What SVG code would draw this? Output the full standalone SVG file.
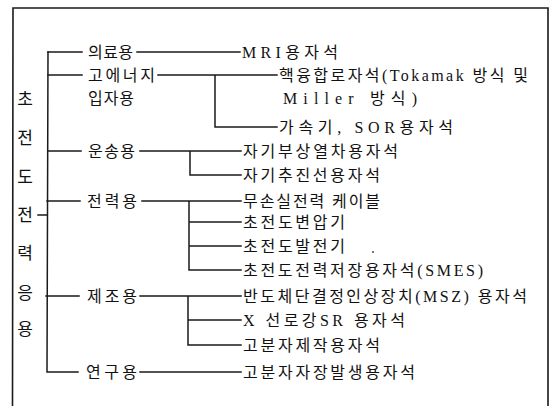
<svg xmlns="http://www.w3.org/2000/svg" width="553" height="406" viewBox="0 0 553 406">
<style>
.ln{stroke:#1a1a1a;stroke-width:1.5;fill:none;stroke-linecap:square}
.fr{stroke:#1a1a1a;stroke-width:1.6;fill:none}
.t{font-family:"Liberation Serif","Noto Sans CJK KR",serif;font-size:16px;fill:#111}
.v{font-family:"Noto Sans CJK KR",sans-serif;font-size:17px;fill:#111;text-anchor:middle}
</style>
<rect width="553" height="406" fill="#fff"/>
<g id="frame">
<path class="fr" d="M12.5,406 L13,8 L548,8 L548,406"/>
</g>
<g id="title">
<text class="v" x="25" y="105">초</text>
<text class="v" x="25" y="144">전</text>
<text class="v" x="25" y="183">도</text>
<text class="v" x="25" y="221">전</text>
<text class="v" x="25" y="259">력</text>
<text class="v" x="25" y="299">응</text>
<text class="v" x="25" y="335">용</text>
</g>
<g id="connectors">
<path class="ln" d="M48,52 L47,372 L78,372"/>
<path class="ln" d="M38,215 L47,215"/>
<path class="ln" d="M48,52 L82,52 M48,75 L82,75 M48,151 L81,151 M47,201 L80,201 M46,296 L79,296"/>
<path class="ln" d="M137,52 L240,52"/>
<path class="ln" d="M158,75 L277,75 M215,75 L215,127 L277,127"/>
<path class="ln" d="M140,151 L241,151 M190,151 L190,175 L241,175"/>
<path class="ln" d="M142,201 L241,201 M189,201 L189,270 L241,270 M189,222 L241,222 M189,246 L241,246"/>
<path class="ln" d="M140,296 L241,296 M188,296 L188,345 L241,345 M188,320 L241,320"/>
<path class="ln" d="M140,372 L241,372"/>
</g>
<g id="n-medical"><text class="t" x="88" y="58" textLength="45" lengthAdjust="spacing">의료용</text></g>
<g id="n-highenergy"><text class="t" x="88" y="81" textLength="67" lengthAdjust="spacing">고에너지</text><text class="t" x="88" y="104" textLength="46" lengthAdjust="spacing">입자용</text></g>
<g id="n-transport"><text class="t" x="88" y="157" textLength="47" lengthAdjust="spacing">운송용</text></g>
<g id="n-power"><text class="t" x="87" y="207" textLength="50" lengthAdjust="spacing">전력용</text></g>
<g id="n-manufacturing"><text class="t" x="87" y="302" textLength="50" lengthAdjust="spacing">제조용</text></g>
<g id="n-research"><text class="t" x="86" y="378" textLength="51" lengthAdjust="spacing">연구용</text></g>
<g id="n-mri"><text class="t" x="242" y="58" textLength="96" lengthAdjust="spacing">MRI용자석</text></g>
<g id="n-fusion"><text class="t" x="279" y="81" textLength="249" lengthAdjust="spacing">핵융합로자석(Tokamak 방식 및</text><text class="t" x="283" y="104" textLength="134" lengthAdjust="spacing">Miller 방식)</text></g>
<g id="n-accel"><text class="t" x="279" y="133" textLength="174" lengthAdjust="spacing">가속기, SOR용자석</text></g>
<g id="n-maglev"><text class="t" x="243" y="157" textLength="155" lengthAdjust="spacing">자기부상열차용자석</text></g>
<g id="n-ship"><text class="t" x="243" y="181" textLength="137" lengthAdjust="spacing">자기추진선용자석</text></g>
<g id="n-cable"><text class="t" x="243" y="207" textLength="137" lengthAdjust="spacing">무손실전력 케이블</text></g>
<g id="n-transformer"><text class="t" x="243" y="228" textLength="102" lengthAdjust="spacing">초전도변압기</text></g>
<g id="n-generator"><text class="t" x="243" y="252" textLength="102" lengthAdjust="spacing">초전도발전기</text><circle cx="373" cy="252" r="0.9" fill="#333"/></g>
<g id="n-smes"><text class="t" x="243" y="276" textLength="240" lengthAdjust="spacing">초전도전력저장용자석(SMES)</text></g>
<g id="n-msz"><text class="t" x="243" y="302" textLength="284" lengthAdjust="spacing">반도체단결정인상장치(MSZ) 용자석</text></g>
<g id="n-xray"><text class="t" x="243" y="326" textLength="162" lengthAdjust="spacing">X 선로강SR 용자석</text></g>
<g id="n-polymer"><text class="t" x="243" y="351" textLength="137" lengthAdjust="spacing">고분자제작용자석</text></g>
<g id="n-field"><text class="t" x="243" y="378" textLength="172" lengthAdjust="spacing">고분자자장발생용자석</text></g>
</svg>
